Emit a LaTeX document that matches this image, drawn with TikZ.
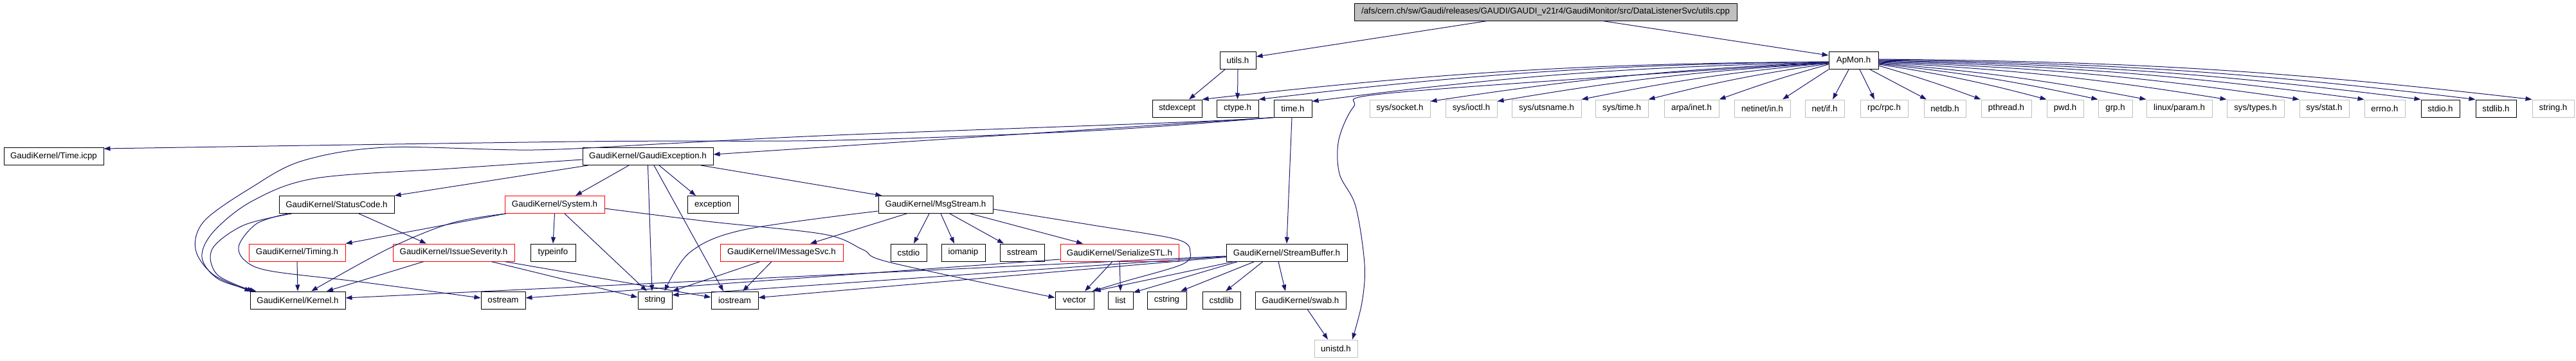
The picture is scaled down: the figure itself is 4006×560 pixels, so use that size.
\documentclass[tikz,border=0pt]{standalone}
\usepackage{fontspec}
\setmainfont{Liberation Sans}
\usetikzlibrary{arrows.meta}
\definecolor{edgeblue}{RGB}{25,25,112}
\definecolor{lgray}{RGB}{191,191,191}
\begin{document}
\begin{tikzpicture}[x=1pt,y=-1pt,
  hbox/.style={draw=black,line width=1pt,fill=white,minimum height=27pt,inner xsep=0pt,inner ysep=0pt,font=\fontsize{13.3}{15}\selectfont,anchor=center},
  gbox/.style={hbox,draw=lgray},
  rbox/.style={hbox,draw=red},
  rootbox/.style={hbox,fill=lgray},
  edge/.style={draw=edgeblue,line width=1pt,-{Triangle[length=10pt,width=7pt]}},
  curve/.style={edge,smooth,tension=0.55}
]
\useasboundingbox (0,0) rectangle (4006,560);
% row 0
\node[rootbox,minimum width=595pt] (root) at (2403.5,18.5) {/afs/cern.ch/sw/Gaudi/releases/GAUDI/GAUDI\_v21r4/GaudiMonitor/src/DataListenerSvc/utils.cpp};
% row 1
\node[hbox,minimum width=56pt] (utils) at (1925,94) {utils.h};
\node[hbox,minimum width=77pt] (apmon) at (2882.5,94) {ApMon.h};
% row 2
\node[hbox,minimum width=77pt] (stdexcept) at (1830.5,168.5) {stdexcept};
\node[hbox,minimum width=65pt] (ctype) at (1924.5,168.5) {ctype.h};
\node[hbox,minimum width=59pt] (timeh) at (2010.5,168.5) {time.h};
\node[gbox,minimum width=94pt] (socket) at (2177,168.5) {sys/socket.h};
\node[gbox,minimum width=80pt] (ioctl) at (2288,168.5) {sys/ioctl.h};
\node[gbox,minimum width=108pt] (utsname) at (2405,168.5) {sys/utsname.h};
\node[gbox,minimum width=82pt] (systime) at (2522,168.5) {sys/time.h};
\node[gbox,minimum width=85pt] (arpa) at (2630.5,168.5) {arpa/inet.h};
\node[gbox,minimum width=87pt] (netinet) at (2740.5,168.5) {netinet/in.h};
\node[gbox,minimum width=61pt] (netif) at (2837.5,168.5) {net/if.h};
\node[gbox,minimum width=74pt] (rpc) at (2930,168.5) {rpc/rpc.h};
\node[gbox,minimum width=65pt] (netdb) at (3024.5,168.5) {netdb.h};
\node[gbox,minimum width=78pt] (pthread) at (3120,168.5) {pthread.h};
\node[gbox,minimum width=57pt] (pwd) at (3211.5,168.5) {pwd.h};
\node[gbox,minimum width=53pt] (grp) at (3289.5,168.5) {grp.h};
\node[gbox,minimum width=102pt] (lparam) at (3389,168.5) {linux/param.h};
\node[gbox,minimum width=89pt] (systypes) at (3507.5,168.5) {sys/types.h};
\node[gbox,minimum width=77pt] (sysstat) at (3614.5,168.5) {sys/stat.h};
\node[gbox,minimum width=63pt] (errno) at (3708.5,168.5) {errno.h};
\node[hbox,minimum width=60pt] (stdio) at (3795,168.5) {stdio.h};
\node[hbox,minimum width=63pt] (stdlib) at (3881.5,168.5) {stdlib.h};
\node[gbox,minimum width=65pt] (stringh) at (3970.5,168.5) {string.h};
% row 3
\node[hbox,minimum width=155pt] (ticpp) at (83.5,243) {GaudiKernel/Time.icpp};
\node[hbox,minimum width=203pt] (gexc) at (1007.5,243) {GaudiKernel/GaudiException.h};
% row 4
\node[hbox,minimum width=179pt] (statc) at (523.5,318) {GaudiKernel/StatusCode.h};
\node[rbox,minimum width=155pt] (system) at (862.5,318) {GaudiKernel/System.h};
\node[hbox,minimum width=79pt] (exception) at (1108.5,318) {exception};
\node[hbox,minimum width=178pt] (msgs) at (1455,318) {GaudiKernel/MsgStream.h};
% row 5
\node[rbox,minimum width=150pt] (timing) at (462,392.5) {GaudiKernel/Timing.h};
\node[rbox,minimum width=189pt] (issue) at (705.5,392.5) {GaudiKernel/IssueSeverity.h};
\node[hbox,minimum width=70pt] (typeinfo) at (860,392.5) {typeinfo};
\node[rbox,minimum width=191pt] (imsg) at (1215.5,392.5) {GaudiKernel/IMessageSvc.h};
\node[hbox,minimum width=56pt] (cstdio) at (1413,392.5) {cstdio};
\node[hbox,minimum width=68pt] (iomanip) at (1498,392.5) {iomanip};
\node[hbox,minimum width=69pt] (sstream) at (1589.5,392.5) {sstream};
\node[rbox,minimum width=184pt] (sstl) at (1741,392.5) {GaudiKernel/SerializeSTL.h};
\node[hbox,minimum width=188pt] (sbuf) at (2001,392.5) {GaudiKernel/StreamBuffer.h};
% row 6
\node[hbox,minimum width=148pt] (kernel) at (463,466.5) {GaudiKernel/Kernel.h};
\node[hbox,minimum width=69pt] (ostream) at (782.5,466.5) {ostream};
\node[hbox,minimum width=53pt] (string) at (1018.5,466.5) {string};
\node[hbox,minimum width=73pt] (iostream) at (1142.5,466.5) {iostream};
\node[hbox,minimum width=60pt] (vector) at (1671,466.5) {vector};
\node[hbox,minimum width=39pt] (list) at (1742.5,466.5) {list};
\node[hbox,minimum width=61pt] (cstring) at (1814.5,466.5) {cstring};
\node[hbox,minimum width=59pt] (cstdlib) at (1899.5,466.5) {cstdlib};
\node[hbox,minimum width=141pt] (swab) at (2022.5,466.5) {GaudiKernel/swab.h};
% row 7
\node[gbox,minimum width=67pt] (unistd) at (2077.5,541.5) {unistd.h};

% ---- edges ----
\draw[edge] ([xshift=-90.5pt]root.south) -- ([yshift=6pt]utils.east);
\draw[edge] ([xshift=88.5pt]root.south) -- ([yshift=8pt]apmon.west);
\draw[edge] ([xshift=-20pt]utils.south) -- ([xshift=18.5pt]stdexcept.north);
\draw[edge] (utils.south) -- (ctype.north);
% ApMon to the left
\draw[edge] ([yshift=-2pt]apmon.west) to[bend right=3] (stdexcept.north east);
\draw[edge] ([yshift=-2pt]apmon.west) to[bend right=3] (ctype.north east);
\draw[edge] ([yshift=-3pt]apmon.west) to[bend right=3] ([yshift=-3pt]timeh.north east);
\draw[edge] ([yshift=-3pt]apmon.west) to[bend right=3] ([yshift=-3pt]socket.north east);
\draw[edge] ([yshift=-4pt]apmon.west) to[bend right=3] ([yshift=-3pt]ioctl.north east);
\draw[edge] ([yshift=-4pt]apmon.west) to[bend right=3] (utsname.north east);
\draw[edge] ([yshift=-5pt]apmon.west) to[bend right=3] (systime.north east);
\draw[edge] ([yshift=-6pt]apmon.west) to[bend right=2] (arpa.north east);
\draw[edge] (apmon.south west) -- ([xshift=31.5pt]netinet.north);
\draw[edge] ([xshift=-7.5pt]apmon.south) -- ([xshift=12.5pt]netif.north);
\draw[edge] ([xshift=9.5pt]apmon.south) -- ([xshift=-15pt]rpc.north);
\draw[edge] ([xshift=25.5pt]apmon.south) -- ([xshift=-28.5pt]netdb.north);
% ApMon to the right
\draw[edge] ([yshift=-8pt]apmon.east) to[bend left=2] (pthread.north west);
\draw[edge] ([yshift=-6pt]apmon.east) to[bend left=3] (pwd.north west);
\draw[edge] ([yshift=-5pt]apmon.east) to[bend left=3] (grp.north west);
\draw[edge] ([yshift=-4pt]apmon.east) to[bend left=3] (lparam.north west);
\draw[edge] ([yshift=-3pt]apmon.east) to[bend left=3] (systypes.north west);
\draw[edge] ([yshift=-2pt]apmon.east) to[bend left=3] (sysstat.north west);
\draw[edge] ([yshift=-1pt]apmon.east) to[bend left=3] (errno.north west);
\draw[edge] ([yshift=0pt]apmon.east) to[bend left=3] (stdio.north west);
\draw[edge] ([yshift=1pt]apmon.east) to[bend left=3] (stdlib.north west);
\draw[edge] ([yshift=2pt]apmon.east) to[bend left=3] (stringh.north west);
% ApMon to unistd
\draw[curve] plot coordinates {([yshift=-3pt]apmon.west) (2480,121) (2140,147) (2105,166) (2082,217) (2083,270) (2108,320) (2122,410) (2118,470) ([xshift=25.5pt]unistd.north)};
% time.h
\draw[curve] plot coordinates {(timeh.south west) (1700,203) (1300,218) (900,220) ([yshift=12pt]ticpp.east)};
\draw[edge] (timeh.south west) -- ([yshift=3pt]gexc.east);
\draw[curve] plot coordinates {([xshift=2pt]timeh.south west) (1836,190) (1300,210) (1040,223) (830,233) (600,229) (470,250) (390,292) (318,343) (304,387) (332,427) ([xshift=2pt]kernel.north west)};
\draw[edge] ([xshift=-1.5pt]timeh.south) -- (sbuf.north);
% GaudiException
\draw[curve] plot coordinates {([yshift=-5pt]gexc.west) (700,262) (491,277) (393,312) (332,360) (314,400) (340,434) ([xshift=10pt]kernel.north west)};
\draw[edge] ([xshift=9pt]gexc.south west) -- (statc.north east);
\draw[edge] ([xshift=-29.5pt]gexc.south) -- ([xshift=32.5pt]system.north);
\draw[edge] (gexc.south) -- ([xshift=-4.5pt]string.north);
\draw[edge] ([xshift=9.5pt]gexc.south) -- ([xshift=-17.5pt]iostream.north);
\draw[edge] ([xshift=17.5pt]gexc.south) -- ([xshift=-26.5pt]exception.north);
\draw[edge] ([xshift=82.5pt]gexc.south) -- ([xshift=6pt]msgs.north west);
% StatusCode
\draw[curve] plot coordinates {([xshift=20pt]statc.south west) (379,350) (330,387) (338,427) ([xshift=6pt]kernel.north west)};
\draw[curve] plot coordinates {([xshift=14pt]statc.south west) (400,347) (372,380) (380,404) (420,421) (560,438) ([yshift=3.5pt]ostream.west)};
\draw[edge] ([xshift=34.5pt]statc.south) -- ([xshift=-42.5pt]issue.north);
% System
\draw[edge] ([xshift=2pt]system.south west) -- (timing.north east);
\draw[curve] plot coordinates {([xshift=2pt]system.south west) (701,347) (603,387) ([xshift=21pt]kernel.north)};
\draw[edge] (system.south) -- (typeinfo.north);
\draw[edge] ([xshift=15.5pt]system.south) -- ([xshift=-12.5pt]string.north);
\draw[curve] plot coordinates {([yshift=-6pt]system.east) (1100,344) (1281,364) (1342,388) (1385,408) ([yshift=4pt]vector.west)};
% Timing, IssueSeverity
\draw[edge] (timing.south) -- (kernel.north);
\draw[edge] ([xshift=-46.5pt]issue.south) -- ([xshift=45pt]kernel.north);
\draw[edge] ([xshift=58.5pt]issue.south) -- ([yshift=4.5pt]string.west);
\draw[edge] ([xshift=79.5pt]issue.south) -- ([yshift=4.5pt]iostream.west);
% MsgStream
\draw[curve] plot coordinates {([yshift=-10pt]msgs.west) (1157,357) (1073,392) ([xshift=15pt]string.north)};
\draw[edge] ([xshift=-45pt]msgs.south) -- ([xshift=44.5pt]imsg.north);
\draw[edge] ([xshift=-10pt]msgs.south) -- ([xshift=8pt]cstdio.north);
\draw[edge] ([xshift=8pt]msgs.south) -- ([xshift=-14pt]iomanip.north);
\draw[edge] ([xshift=22pt]msgs.south) -- ([xshift=-28.5pt]sstream.north);
\draw[edge] ([xshift=54pt]msgs.south) -- ([xshift=-57pt]sstl.north);
\draw[curve] plot coordinates {([yshift=-7pt]msgs.east) (1700,350) (1830,372) (1851,392) (1838,411) (1750,437) ([xshift=-3pt]vector.north east)};
% IMessageSvc
\draw[edge] ([xshift=-33.5pt]imsg.south) -- (string.north east);
\draw[edge] ([xshift=-15.5pt]imsg.south) -- ([xshift=12.5pt]iostream.north);
% SerializeSTL
\draw[edge] ([xshift=-11pt]sstl.south) -- ([xshift=16pt]vector.north);
\draw[edge] (sstl.south) -- (list.north);
\draw[edge] ([yshift=-10.5pt]sstl.west) -- ([yshift=3.5pt]ostream.east);
% StreamBuffer
\draw[edge] ([yshift=-5.5pt]sbuf.west) -- ([yshift=3.5pt]kernel.east);
\draw[edge] ([yshift=-6pt]sbuf.west) -- ([yshift=8pt]string.east);
\draw[edge] ([yshift=-7pt]sbuf.west) -- ([yshift=4pt]iostream.east);
\draw[edge] ([xshift=-82pt]sbuf.south) -- (vector.north east);
\draw[edge] ([xshift=-76pt]sbuf.south) -- ([yshift=-2pt]list.north east);
\draw[edge] ([xshift=-50pt]sbuf.south) -- ([xshift=21.5pt]cstring.north);
\draw[edge] ([xshift=-37pt]sbuf.south) -- ([xshift=6.5pt]cstdlib.north);
\draw[edge] ([xshift=-13pt]sbuf.south) -- ([xshift=-23.5pt]swab.north);
% swab
\draw[edge] ([xshift=10.5pt]swab.south) -- ([xshift=-12.5pt]unistd.north);
\end{tikzpicture}
\end{document}
